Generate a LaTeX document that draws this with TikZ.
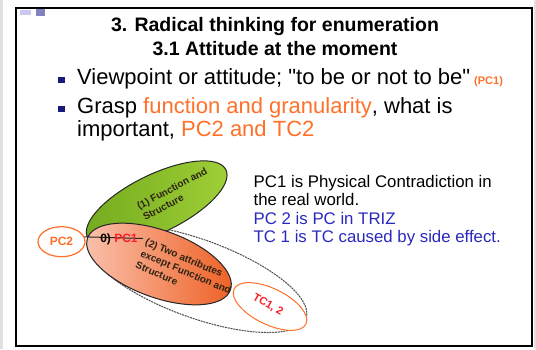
\documentclass[tikz,border=0pt]{standalone}
\usepackage{fontspec}
\setmainfont{Liberation Sans}
\newfontfamily\nomapfont{Liberation Sans}[Ligatures=ResetAll]
\usetikzlibrary{shapes.geometric}
\definecolor{navy}{RGB}{25,25,120}
\definecolor{orng}{RGB}{255,112,40}
\definecolor{txtblue}{RGB}{40,40,190}
\definecolor{redtxt}{RGB}{250,30,40}
\definecolor{grnA}{RGB}{115,170,30}
\definecolor{grnB}{RGB}{160,208,55}
\definecolor{salA}{RGB}{250,195,175}
\definecolor{salB}{RGB}{238,95,35}
\definecolor{blobtxt}{RGB}{45,35,20}
\definecolor{sqA}{RGB}{200,200,240}
\definecolor{sqB}{RGB}{130,130,190}
\begin{document}
\begin{tikzpicture}[x=1pt,y=-1pt,
  blob/.style={ellipse, inner sep=0pt, line width=1pt},
  bul/.style={fill=navy, minimum size=6.5pt, inner sep=0pt},
  bigtxt/.style={font=\fontsize{22}{26}\selectfont, anchor=base west, inner sep=0pt},
  sidetxt/.style={font=\fontsize{16.8}{20}\selectfont, anchor=base west, inner sep=0pt},
  blobfont/.style={font=\fontsize{10}{12.5}\selectfont\bfseries, text=blobtxt, inner sep=0pt}]
\useasboundingbox (0,0) rectangle (536,349);
% side strips
\fill[black!12] (0,0) rectangle (2.5,349);
\fill[black!12] (533.5,0) rectangle (536,349);
% frame
\draw[line width=2pt] (16,8) rectangle (532,346);
% small squares top-left
\fill[sqA] (20,10) rectangle (31,15);
\fill[sqB] (36,8.5) rectangle (45,16);
% title
\node[font=\fontsize{19.5}{23}\selectfont\bfseries, anchor=base, inner sep=0pt] (t1) at (275,31) {3. Radical thinking for enumeration};
\node[font=\fontsize{19.5}{23}\selectfont\bfseries, anchor=base, inner sep=0pt] (t2) at (275,55) {3.1 Attitude at the moment};
% bullets
\node[bul] (b1) at (61.5,80) {};
\node[bigtxt] (l1) at (77,84) {Viewpoint or attitude; {\nomapfont"}to be or not to be{\nomapfont"}};
\node[font=\fontsize{11}{13}\selectfont\bfseries, text=orng, anchor=base west, inner sep=0pt] (pc1tag) at (474,84) {(PC1)};
\node[bul] (b2) at (61.5,109) {};
\node[bigtxt] (l2) at (77,113) {Grasp \textcolor{orng}{function and granularity}, what is};
\node[bigtxt] (l3) at (77,136.5) {important, \textcolor{orng}{PC2 and TC2}};
% side text
\node[sidetxt] (s1) at (253.5,187) {PC1 is Physical Contradiction in};
\node[sidetxt] (s2) at (253.5,205.5) {the real world.};
\node[sidetxt, text=txtblue] (s3) at (253.5,224) {PC 2 is PC in TRIZ};
\node[sidetxt, text=txtblue] (s4) at (253.5,242.5) {TC 1 is TC caused by side effect.};
% diagram
\node[blob, draw=black!70, dash pattern=on 2pt off 0.8pt, fill=white, minimum width=232pt, minimum height=78pt, rotate=-20] (big) at (197,278.5) {};
\node[blob, draw=orng, fill=white, minimum width=80pt, minimum height=36pt, rotate=-26] (tc) at (270,306.5) {};
\node[blob, draw=black!85, left color=grnA, right color=grnB, minimum width=154pt, minimum height=58pt, rotate=26] (green) at (156.7,203.5) {};
\node[blob, draw=black!85, left color=salA, right color=salB, minimum width=152pt, minimum height=67pt, rotate=-20] (salmon) at (159,264) {};
\node[blob, draw=orng, fill=white, line width=1.2pt, minimum width=47pt, minimum height=30pt] (pc2) at (61.5,241.7) {};
\node[font=\fontsize{12}{14}\selectfont\bfseries, text=orng, inner sep=0pt] (pc2t) at (pc2.center) {PC2};
\coordinate (lend) at (143,238.5);
\draw[line width=1pt, black!85] (pc2.12) -- (lend);
\node[font=\fontsize{12}{14}\selectfont\bfseries, inner sep=0pt] (pc1t) at (119,239.5) {0)~\textcolor{redtxt}{PC1}};
\node[blobfont, align=left, rotate=28] (gt) at (175,194) {(1) Function and\\Structure};
\node[blobfont, align=left, rotate=-23] (st) at (186,272) {(2) Two attributes\\except Function and\\Structure};
\node[font=\fontsize{11}{13}\selectfont\bfseries, text=redtxt, rotate=-30, inner sep=0pt] (tct) at (268,305) {TC1, 2};
\end{tikzpicture}
\end{document}
